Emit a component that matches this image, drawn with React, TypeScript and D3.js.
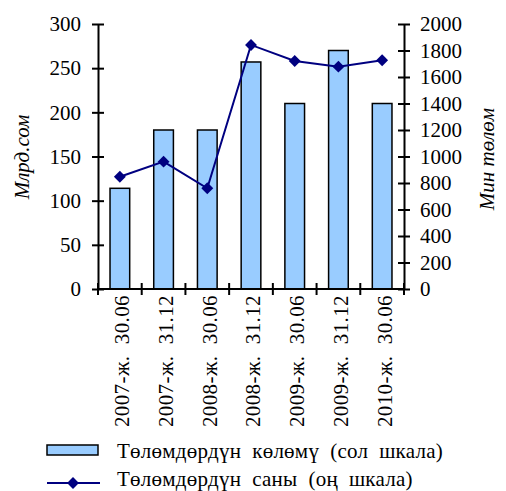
import { useEffect, useRef } from "react";
import * as d3 from "d3";

const categories = [
    "2007-ж.  30.06",
    "2007-ж.  31.12",
    "2008-ж.  30.06",
    "2008-ж.  31.12",
    "2009-ж.  30.06",
    "2009-ж.  31.12",
    "2010-ж.  30.06",
];
const volume = [114, 180, 180, 257, 210, 270, 210];
const count = [847, 961, 760, 1842, 1721, 1678, 1726];
const leftTicks = [0, 50, 100, 150, 200, 250, 300];
const rightTicks = [0, 200, 400, 600, 800, 1000, 1200, 1400, 1600, 1800, 2000];
const leftTitle = "Млрд.сом";
const rightTitle = "Мин төлөм";
const legendBars = "Төлөмдөрдүн  көлөмү  (сол  шкала)";
const legendLine = "Төлөмдөрдүн  саны  (оң  шкала)";

// keep double spaces visible in svg text
const nb = (s) => s.replace(/ /g, "\u00a0");

export default function App({
    width = 506,
    height = 491,
    marginTop = 24,
    marginRight = 102,
    marginBottom = 202,
    marginLeft = 98,
}) {
    const gx = useRef(null);
    const gyl = useRef(null);
    const gyr = useRef(null);

    const x = d3.scaleBand(categories, [marginLeft, width - marginRight]).paddingInner(0.55).paddingOuter(0.275);
    const yl = d3.scaleLinear([0, 300], [height - marginBottom, marginTop]);
    const yr = d3.scaleLinear([0, 2000], [height - marginBottom, marginTop]);
    const cx = (c) => x(c) + x.bandwidth() / 2;
    const line = d3.line((_, i) => cx(categories[i]), yr);
    const diamond = d3.symbol(d3.symbolDiamond2, 90);
    const font = "'Liberation Serif', 'Times New Roman', serif";

    useEffect(() => {
        const g = d3.select(gx.current);
        g.selectAll("*").remove();
        g.append("line")
            .attr("x1", marginLeft).attr("x2", width - marginRight)
            .attr("stroke", "black").attr("stroke-width", 2);
        d3.range(categories.length + 1).forEach((i) => {
            const px = marginLeft + i * (width - marginLeft - marginRight) / categories.length;
            g.append("line").attr("x1", px).attr("x2", px).attr("y1", -6).attr("y2", 6)
                .attr("stroke", "black").attr("stroke-width", 2);
        });
        categories.forEach((c) => {
            g.append("text")
                .attr("transform", `translate(${cx(c) + 2},6) rotate(-90)`)
                .attr("text-anchor", "end")
                .attr("dy", "0.35em")
                .attr("font-size", 21)
                .attr("letter-spacing", 0.4)
                .attr("font-family", font)
                .text(nb(c));
        });

        const axisL = d3.axisLeft(yl).tickValues(leftTicks).tickSize(0).tickPadding(17);
        d3.select(gyl.current).call(axisL).call((s) => {
            s.select(".domain").attr("stroke-width", 2);
            s.selectAll(".tick line").remove();
            s.selectAll(".tick").append("line").attr("x1", -6).attr("x2", 6)
                .attr("stroke", "black").attr("stroke-width", 2);
            s.selectAll("text").attr("font-size", 21).attr("font-family", font);
        });
        const axisR = d3.axisRight(yr).tickValues(rightTicks).tickFormat(d3.format("d")).tickSize(0).tickPadding(16);
        d3.select(gyr.current).call(axisR).call((s) => {
            s.select(".domain").attr("stroke-width", 2);
            s.selectAll(".tick line").remove();
            s.selectAll(".tick").append("line").attr("x1", -6).attr("x2", 6)
                .attr("stroke", "black").attr("stroke-width", 2);
            s.selectAll("text").attr("font-size", 21).attr("font-family", font);
        });
    }, []);

    return (
        <svg width={width} height={height} style={{ position: "absolute", left: 0, top: 0 }}>
            <g fill="#99CCFF" stroke="black" strokeWidth="1.5">
                {volume.map((v, i) => (
                    <rect key={i} x={x(categories[i])} y={yl(v)} width={x.bandwidth()} height={yl(0) - yl(v)} />
                ))}
            </g>
            <g ref={gx} transform={`translate(0,${height - marginBottom})`} />
            <g ref={gyl} transform={`translate(${marginLeft},0)`} />
            <g ref={gyr} transform={`translate(${width - marginRight},0)`} />
            <path fill="none" stroke="#000080" strokeWidth="2" d={line(count)} />
            <g fill="#000080">
                {count.map((d, i) => (
                    <path key={i} transform={`translate(${cx(categories[i])},${yr(d)})`} d={diamond()} />
                ))}
            </g>
            <text transform="translate(29,157) rotate(-90)" textAnchor="middle" fontStyle="italic"
                fontSize="21" fontFamily={font}>{leftTitle}</text>
            <text transform="translate(494,159) rotate(-90)" textAnchor="middle" fontStyle="italic"
                fontSize="21" fontFamily={font}>{rightTitle}</text>
            <g fontSize="21" fontFamily={font} letterSpacing="0.25">
                <rect x="47" y="445" width="51" height="10" fill="#99CCFF" stroke="black" strokeWidth="1.5" />
                <text x="117" y="458">{nb(legendBars)}</text>
                <line x1="47" x2="100" y1="483" y2="483" stroke="#000080" strokeWidth="2" />
                <path transform="translate(73,483)" d={diamond()} fill="#000080" />
                <text x="117" y="486">{nb(legendLine)}</text>
            </g>
        </svg>
    );
}
